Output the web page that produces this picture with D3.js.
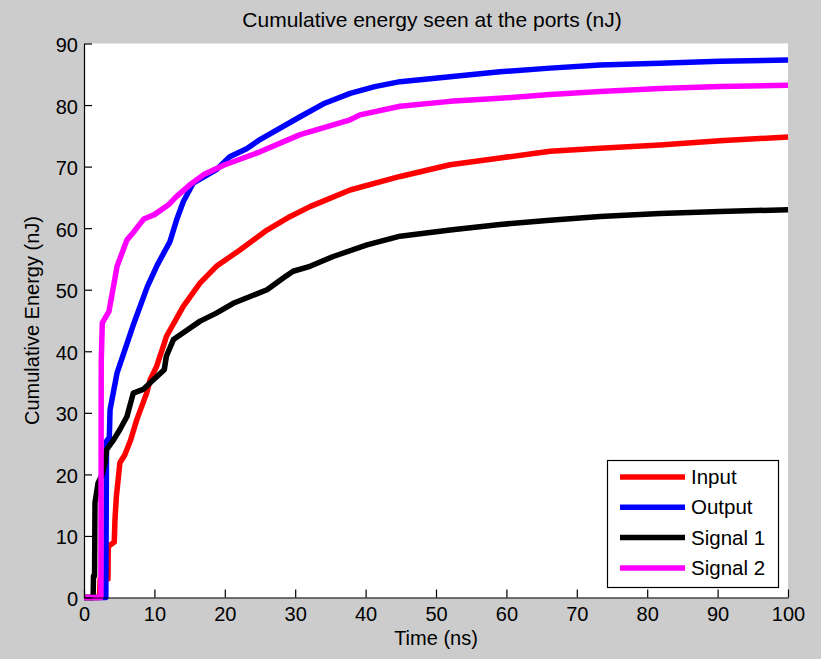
<!DOCTYPE html>
<html lang="en">
<head>
  <meta charset="UTF-8">
  <title>Cumulative energy seen at the ports (nJ)</title>
  <script src="https://d3js.org/d3.v7.min.js"></script>
  <style>
    body { margin: 0; background: #cccccc; }
    text { font-family: "Liberation Sans", Arial, sans-serif; fill: #000; }
  </style>
</head>
<body>

<script>
  // values: [time (ns), cumulative energy (nJ)]
  var inputData = [[0,0],[2.2,0],[2.3,3],[3.4,3],[3.45,8.3],[4.3,9],[4.4,12.7],[4.6,16.4],[5.1,21.9],[5.8,23.2],
    [6.6,25.5],[7.5,28.9],[8.9,33.2],[9.4,35.4],[10.3,37.5],[11.4,41.3],[11.7,42.4],[14.1,47.3],[16.5,51.1],
    [18.8,53.8],[22.2,56.5],[26,59.7],[29.3,61.9],[32.1,63.5],[37.8,66.2],[44.9,68.4],[52,70.3],[59.1,71.4],
    [66.2,72.5],[73.3,73.0],[81.8,73.5],[90.3,74.2],[100,74.8]];

  var outputData = [[0,0],[3.1,0],[3.2,25.4],[3.6,26],[3.7,30.5],[4.7,36.5],[7.1,44.6],[9,50.5],[10.4,54],
    [12.2,57.8],[13.2,61.5],[14.1,64.3],[15.5,67.3],[18.8,69.5],[20.7,71.6],[23.1,72.9],[25,74.4],[30.7,78.1],[34.2,80.3],
    [37.8,81.9],[41.3,83.0],[44.9,83.8],[52,84.6],[59.1,85.4],[66.2,86.0],[73.3,86.5],[81.8,86.8],[90.3,87.1],[100,87.3]];

  var signal1Data = [[0,0],[1.3,0],[1.35,3.5],[1.5,3.5],[1.56,15.4],[2.0,18.6],[2.6,20],[3.0,21.9],[3.2,24],
    [4.2,25.6],[5.1,27.3],[6.1,29.4],[7.0,33.2],[8.4,33.8],[9.9,35.4],[11.4,37],[11.7,39.2],[12.7,41.9],[14.1,43],
    [16.5,44.9],[18.8,46.2],[21.2,47.8],[23.6,48.9],[26,50],[28.3,51.9],[29.7,53],[32.1,53.8],[35.4,55.4],
    [40.2,57.3],[44.9,58.7],[52,59.7],[59.1,60.6],[66.2,61.3],[73.3,61.9],[81.8,62.4],[90.3,62.7],[100,63.0]];

  var signal2Data = [[0,0],[2.4,0],[2.45,38.4],[2.6,44.6],[3.55,46.5],[4.7,53.8],[6.1,58.1],[7,59.3],[8.5,61.5],
    [10,62.2],[12,63.8],[13,65],[15,67],[17,68.7],[20,70.3],[25,72.4],[30.7,75.2],[37.8,77.6],[39.2,78.4],
    [44.9,79.8],[52,80.6],[59,81.1],[66.2,81.7],[73.3,82.2],[81.8,82.7],[90.3,83.0],[100,83.2]];

  var seriesNames = ["Input", "Output", "Signal 1", "Signal 2"];
  var seriesColors = ["#ff0000", "#0000ff", "#000000", "#ff00ff"];
  var xTicks = [0, 10, 20, 30, 40, 50, 60, 70, 80, 90, 100];
  var yTicks = [0, 10, 20, 30, 40, 50, 60, 70, 80, 90];

  var allSeries = [inputData, outputData, signal1Data, signal2Data];

  var svg = d3.select("body").append("svg")
    .attr("width", 821)
    .attr("height", 659);

  svg.append("rect")
    .attr("width", 821).attr("height", 659)
    .attr("fill", "#cccccc");

  var x = d3.scaleLinear().domain([0, 100]).range([84, 788]);
  var y = d3.scaleLinear().domain([0, 90]).range([597.5, 43.5]);

  // white plot area
  svg.append("rect")
    .attr("x", x(0)).attr("y", y(90))
    .attr("width", x(100) - x(0)).attr("height", y(0) - y(90))
    .attr("fill", "#fff");

  // curves, drawn in the plot order so magenta ends up on top
  var line = d3.line()
    .x(function(d) { return x(d[0]); })
    .y(function(d) { return y(d[1]); });

  allSeries.forEach(function(data, i) {
    svg.append("path")
      .datum(data)
      .attr("d", line)
      .attr("fill", "none")
      .attr("stroke", seriesColors[i])
      .attr("stroke-width", 5.5)
      .attr("stroke-linejoin", "round");
  });

  // axes with inward ticks, no box
  var xAxis = d3.axisBottom(x).tickValues(xTicks).tickSize(-8).tickSizeOuter(0).tickPadding(9);
  var yAxis = d3.axisLeft(y).tickValues(yTicks).tickSize(-8).tickSizeOuter(0).tickPadding(6);

  var gx = svg.append("g")
    .attr("transform", "translate(0," + y(0) + ")")
    .call(xAxis);
  var gy = svg.append("g")
    .attr("transform", "translate(" + x(0) + ",0)")
    .call(yAxis);

  [gx, gy].forEach(function(g) {
    g.selectAll("path, line").attr("stroke", "#000").attr("stroke-width", 1.2);
    g.selectAll("text")
      .style("font-family", "'Liberation Sans', Arial, sans-serif")
      .style("font-size", "20px")
      .attr("fill", "#000");
  });
  gy.selectAll("text").attr("dy", "0.4em");

  // title and axis labels
  svg.append("text")
    .attr("x", (x(0) + x(100)) / 2 - 4)
    .attr("y", 27)
    .attr("text-anchor", "middle")
    .style("font-size", "21px")
    .text("Cumulative energy seen at the ports (nJ)");

  svg.append("text")
    .attr("x", (x(0) + x(100)) / 2)
    .attr("y", 645)
    .attr("text-anchor", "middle")
    .style("font-size", "20px")
    .text("Time (ns)");

  svg.append("text")
    .attr("transform", "translate(39," + (y(0) + y(90)) / 2 + ") rotate(-90)")
    .attr("text-anchor", "middle")
    .style("font-size", "20px")
    .text("Cumulative Energy (nJ)");

  // legend
  var legend = svg.append("g");
  legend.append("rect")
    .attr("x", 607.5).attr("y", 460.5)
    .attr("width", 171).attr("height", 127)
    .attr("fill", "#fff")
    .attr("stroke", "#000")
    .attr("stroke-width", 1.2);

  seriesNames.forEach(function(name, i) {
    var ly = 477 + i * 30.3;
    legend.append("line")
      .attr("x1", 620).attr("x2", 685)
      .attr("y1", ly).attr("y2", ly)
      .attr("stroke", seriesColors[i])
      .attr("stroke-width", 5.5);
    legend.append("text")
      .attr("x", 691)
      .attr("y", ly + 7)
      .style("font-size", "20.5px")
      .text(name);
  });
</script>

</body>
</html>
